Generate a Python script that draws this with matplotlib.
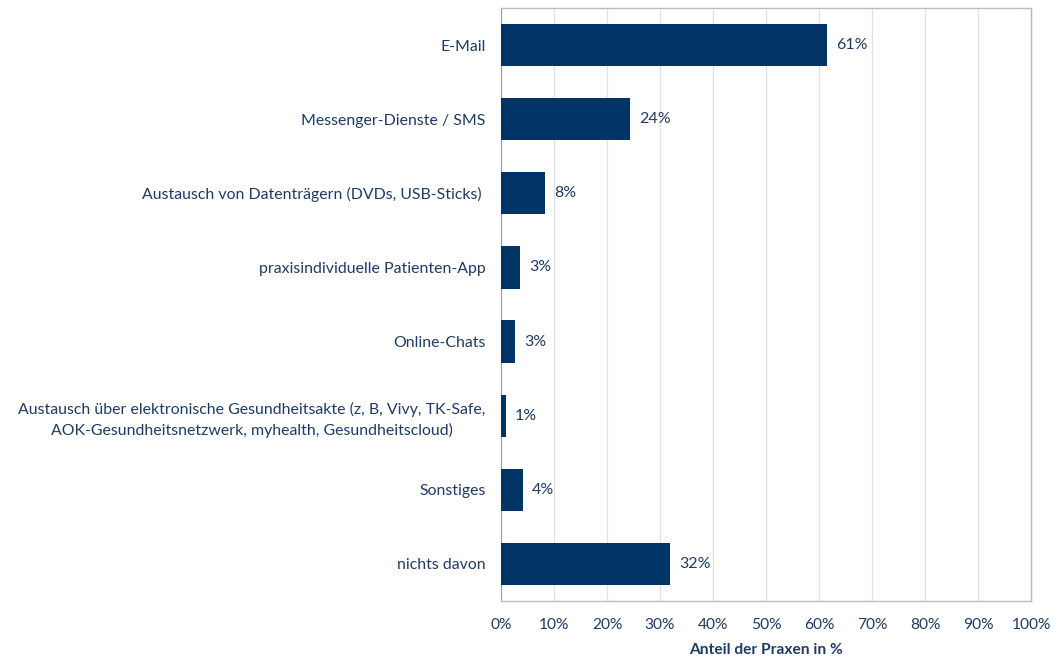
import matplotlib
matplotlib.use("Agg")
import matplotlib.pyplot as plt
from matplotlib.ticker import MultipleLocator, FuncFormatter

categories = [
    "E-Mail",
    "Messenger-Dienste / SMS",
    "Austausch von Datenträgern (DVDs, USB-Sticks) ",
    "praxisindividuelle Patienten-App",
    "Online-Chats",
    "Austausch über elektronische Gesundheitsakte (z, B, Vivy, TK-Safe,\nAOK-Gesundheitsnetzwerk, myhealth, Gesundheitscloud)",
    "Sonstiges",
    "nichts davon",
]
values = [61.5, 24.3, 8.3, 3.6, 2.6, 0.9, 4.1, 31.9]
value_labels = ["61%", "24%", "8%", "3%", "3%", "1%", "4%", "32%"]
x_label = "Anteil der Praxen in %"

text_color = "#1F3B64"
bar_color = "#003466"

plt.rcParams['font.family'] = ['Lato', 'DejaVu Sans']

fig = plt.figure(figsize=(10.54, 6.56), dpi=100)
ax = fig.add_axes([501/1054, 1 - 601/656, (1031-501)/1054, (601-8)/656])

y = list(range(len(categories)))
ax.barh(y, values, height=0.57, color=bar_color, zorder=3)
for yi, v, lab in zip(y, values, value_labels):
    ax.text(v + 1.7, yi, lab, va="center", ha="left", fontsize=11.5, color=text_color)

ax.set_xlim(0, 100)
ax.set_ylim(7.5, -0.5)
ax.set_yticks(y)
ax.set_yticklabels(categories, fontsize=11.4, color=text_color, ha="right",
                   multialignment="center", linespacing=1.45)
ax.tick_params(axis="y", length=0, pad=11)
ax.xaxis.set_major_locator(MultipleLocator(10))
ax.xaxis.set_major_formatter(FuncFormatter(lambda v, p: f"{int(round(v))}%"))
ax.tick_params(axis="x", length=0, pad=12, labelsize=11.2, labelcolor=text_color)
ax.grid(axis="x", color="#d0d0d0", linestyle=(0, (1, 0.6)), linewidth=0.9, zorder=0)
for s in ["top", "right", "bottom"]:
    ax.spines[s].set_color("#b8bcc8")
    ax.spines[s].set_linewidth(1.0)
ax.spines["left"].set_color("#9a9aa6")
ax.set_xlabel(x_label, fontsize=11.2, fontweight="bold", color=text_color, labelpad=8)

fig.savefig("out.png", dpi=100)
